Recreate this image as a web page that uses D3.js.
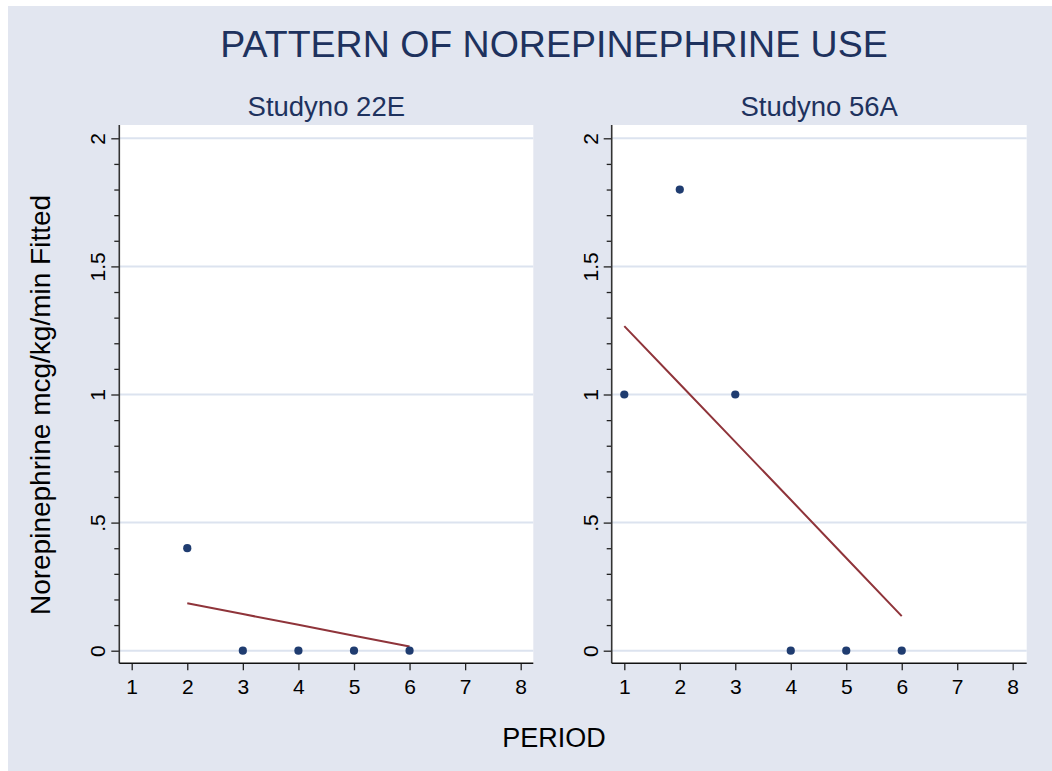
<!DOCTYPE html>
<html>
<head>
<meta charset="utf-8">
<script src="https://cdn.jsdelivr.net/npm/d3@7"></script>
<style>
  body { margin: 0; background: #fff; }
  text { font-family: "Liberation Sans", Arial, sans-serif; }
</style>
</head>
<body>
<svg id="chart" width="1052" height="771"></svg>
<script>
// data
var panelTitles = ["Studyno 22E", "Studyno 56A"];
var period22E = [2, 3, 4, 5, 6];
var norepi22E = [0.4, 0, 0, 0, 0];
var fitted22E = [0.185, 0.143, 0.101, 0.058, 0.016];
var period56A = [1, 2, 3, 4, 5, 6];
var norepi56A = [1, 1.8, 1, 0, 0, 0];
var fitted56A = [1.267, 1.041, 0.815, 0.589, 0.362, 0.135];
var xTicks = [1, 2, 3, 4, 5, 6, 7, 8];
var yTicks = [0, 0.5, 1, 1.5, 2];
var yMinorTicks = [0.1, 0.2, 0.3, 0.4, 0.6, 0.7, 0.8, 0.9, 1.1, 1.2, 1.3, 1.4, 1.6, 1.7, 1.8, 1.9];

var bg = "#e2e6f0",
    navy = "#1f3c70",
    maroon = "#8f343a",
    titleColor = "#1e325e",
    gridColor = "#dce3ef";

var svg = d3.select("#chart");

svg.append("rect")
    .attr("x", 8).attr("y", 6)
    .attr("width", 1052 - 8).attr("height", 771 - 6)
    .attr("fill", bg);

svg.append("text")
    .attr("x", 554).attr("y", 57)
    .attr("text-anchor", "middle")
    .style("font-size", "37.5px")
    .attr("fill", titleColor)
    .text("PATTERN OF NOREPINEPHRINE USE");

svg.append("text")
    .attr("transform", "translate(50,405) rotate(-90)")
    .attr("text-anchor", "middle")
    .style("font-size", "28px")
    .attr("fill", "#000")
    .text("Norepinephrine mcg/kg/min Fitted");

svg.append("text")
    .attr("x", 554).attr("y", 747)
    .attr("text-anchor", "middle")
    .style("font-size", "27px")
    .attr("fill", "#000")
    .text("PERIOD");

var plotTop = 125, plotBottom = 663.3;
var yScale = d3.scaleLinear().domain([0, 2]).range([650.7, 138.3]);

var panels = [
  {title: panelTitles[0], left: 119.3, right: 533.3, x1: 131.7, x8: 520.7,
   xs: period22E, ys: norepi22E, fit: fitted22E},
  {title: panelTitles[1], left: 611.7, right: 1026.7, x1: 624.3, x8: 1012.7,
   xs: period56A, ys: norepi56A, fit: fitted56A}
];

var fmt = function(d) { return d === 0.5 ? ".5" : String(d); };

panels.forEach(function(p) {
  var xScale = d3.scaleLinear().domain([1, 8]).range([p.x1, p.x8]);
  var g = svg.append("g");

  g.append("text")
      .attr("x", (p.left + p.right) / 2).attr("y", 116)
      .attr("text-anchor", "middle")
      .style("font-size", "27.5px")
      .attr("fill", titleColor)
      .text(p.title);

  g.append("rect")
      .attr("x", p.left).attr("y", plotTop)
      .attr("width", p.right - p.left).attr("height", plotBottom - plotTop)
      .attr("fill", "#fff");

  g.append("g").selectAll("line")
    .data(yTicks).join("line")
      .attr("x1", p.left).attr("x2", p.right)
      .attr("y1", d => yScale(d)).attr("y2", d => yScale(d))
      .attr("stroke", gridColor)
      .attr("stroke-width", 2);

  // minor y ticks
  g.append("g")
      .attr("transform", "translate(" + p.left + ",0)")
      .call(d3.axisLeft(yScale).tickValues(yMinorTicks).tickSize(5).tickFormat(""))
      .call(a => a.select(".domain").remove())
      .call(a => a.selectAll("line").attr("stroke", "#222").attr("stroke-width", 1.3));

  var gy = g.append("g")
      .attr("transform", "translate(" + p.left + ",0)")
      .call(d3.axisLeft(yScale).tickValues(yTicks).tickSize(8).tickFormat(fmt));
  gy.select(".domain").remove();
  gy.selectAll("line").attr("stroke", "#222").attr("stroke-width", 1.3);
  gy.selectAll("text")
      .attr("x", null).attr("dy", null)
      .attr("text-anchor", "middle")
      .attr("transform", "translate(-14,0) rotate(-90)")
      .style("font-size", "21px")
      .attr("fill", "#000");

  var gx = g.append("g")
      .attr("transform", "translate(0," + plotBottom + ")")
      .call(d3.axisBottom(xScale).tickValues(xTicks).tickSize(7).tickFormat(d3.format("d")));
  gx.select(".domain").remove();
  gx.selectAll("line").attr("stroke", "#222").attr("stroke-width", 1.3);
  gx.selectAll("text")
      .attr("y", 31).attr("dy", null)
      .style("font-size", "21px")
      .attr("fill", "#000");

  g.append("line")
      .attr("x1", p.left).attr("x2", p.left)
      .attr("y1", plotTop).attr("y2", plotBottom)
      .attr("stroke", "#333").attr("stroke-width", 1.6);
  g.append("line")
      .attr("x1", p.left).attr("x2", p.right)
      .attr("y1", plotBottom).attr("y2", plotBottom)
      .attr("stroke", "#111").attr("stroke-width", 1.6);

  var fitLine = d3.line()
      .x((d, i) => xScale(p.xs[i]))
      .y(d => yScale(d));

  g.append("path")
      .datum(p.fit)
      .attr("d", fitLine)
      .attr("fill", "none")
      .attr("stroke", maroon)
      .attr("stroke-width", 2);

  g.append("g").selectAll("circle")
    .data(p.ys).join("circle")
      .attr("cx", (d, i) => xScale(p.xs[i]))
      .attr("cy", d => yScale(d))
      .attr("r", 4.1)
      .attr("fill", navy);
});
</script>
</body>
</html>
